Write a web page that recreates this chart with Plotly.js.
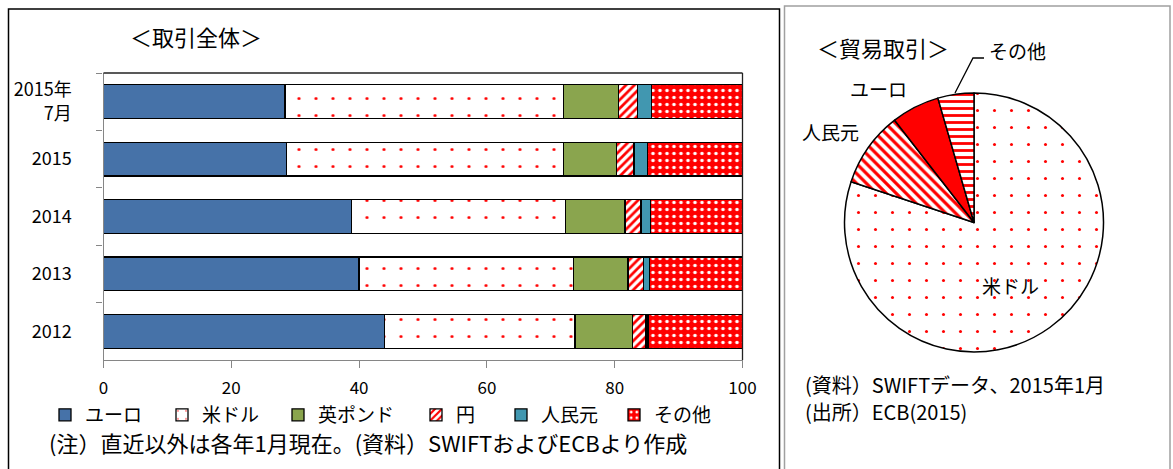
<!DOCTYPE html>
<html>
<head>
<meta charset="utf-8">
<script src="https://cdn.plot.ly/plotly-3.0.1.min.js"></script>
<style>
html,body{margin:0;padding:0;background:#fff;}
#chart{width:1173px;height:469px;}
</style>
</head>
<body>
<div id="chart"></div>
<script>
// ---- Data ----
const categories = ["2015年<br>7月", "2015", "2014", "2013", "2012"];
const seriesNames = ["ユーロ", "米ドル", "英ポンド", "円", "人民元", "その他"];
const euro  = [28.4, 28.6, 38.8, 40.0, 44.0];
const usd   = [43.6, 43.4, 33.5, 33.5, 29.8];
const gbp   = [8.6, 8.3, 9.3, 8.6, 9.0];
const jpy   = [3.0, 2.7, 2.5, 2.4, 2.1];
const cny   = [2.2, 2.1, 1.5, 0.9, 0.3];
const other = [14.2, 14.9, 14.4, 14.6, 14.8];
const xTicks = [0, 20, 40, 60, 80, 100];

const pieLabels = ["米ドル", "人民元", "ユーロ", "その他"];
const pieValues = [80.1, 9.4, 6.0, 4.5];

// ---- helpers: pixel -> paper ----
const W = 1173, H = 469;
const px = x => x / W;
const py = y => 1 - y / H;
const FONT = "'Noto Sans CJK JP', 'Noto Sans', sans-serif";
const RED = "#FF0000";

const seriesValues = [euro, usd, gbp, jpy, cny, other];
const styles = [
  {color: "#4672A8"},
  {color: "#FFFFFF", pattern: {shape: ".", fgcolor: RED, bgcolor: "#FFFFFF", size: 17, solidity: 0.025}},
  {color: "#8AA54E"},
  {color: "#FFFFFF", pattern: {shape: "/", fgcolor: RED, bgcolor: "#FFFFFF", size: 6, solidity: 0.45}},
  {color: "#4197B0"},
  {color: RED, pattern: {shape: ".", fgcolor: "#FFFFFF", bgcolor: RED, size: 7, solidity: 0.2}}
];
const legendIds = ["legend", "legend2", "legend3", "legend4", "legend5", "legend6"];
const legendTextX = [85, 202, 318, 456, 541, 654];

const traces = seriesNames.map((name, i) => ({
  type: "bar",
  orientation: "h",
  name: name,
  y: categories,
  x: seriesValues[i],
  xaxis: "x",
  yaxis: "y",
  legend: legendIds[i],
  marker: Object.assign({line: {color: "#000000", width: 1.3}}, styles[i]),
  hoverinfo: "x+name"
}));

traces.push({
  type: "pie",
  labels: pieLabels,
  values: pieValues,
  sort: false,
  direction: "clockwise",
  rotation: 0,
  textinfo: "none",
  showlegend: false,
  domain: {x: [px(844.5), px(1103.5)], y: [py(352), py(93)]},
  marker: {
    colors: ["#FFFFFF", "#FFFFFF", RED, "#FFFFFF"],
    line: {color: "#000000", width: 1.5},
    pattern: {
      shape: [".", "\\", "", "-"],
      fgcolor: [RED, RED, RED, RED],
      bgcolor: ["#FFFFFF", "#FFFFFF", RED, "#FFFFFF"],
      size: [17, 7, 8, 7],
      solidity: [0.025, 0.45, 0.3, 0.4]
    }
  }
});

const layout = {
  width: W, height: H, autosize: false,
  margin: {l: 0, r: 0, t: 0, b: 0},
  paper_bgcolor: "#FFFFFF",
  plot_bgcolor: "#FFFFFF",
  font: {family: FONT, color: "#000000", size: 18},
  barmode: "stack",
  bargap: 0.41,
  xaxis: {
    domain: [px(103.5), px(742.5)],
    range: [0, 100],
    tickvals: xTicks,
    showgrid: false, zeroline: false,
    showline: true, linecolor: "#868686", linewidth: 1.3,
    ticks: "outside", ticklen: 7, tickcolor: "#868686", tickwidth: 1.3,
    tickfont: {size: 17, family: FONT},
    ticklabelstandoff: 5,
    fixedrange: true
  },
  yaxis: {
    domain: [py(360), py(73)],
    type: "category",
    autorange: "reversed",
    showgrid: false, zeroline: false,
    showline: true, linecolor: "#868686", linewidth: 1.3,
    ticks: "outside", tickson: "boundaries", ticklen: 6, tickcolor: "#868686", tickwidth: 1.3,
    tickfont: {size: 18, family: FONT},
    ticklabelstandoff: 27,
    fixedrange: true
  },
  shapes: [
    // panel borders
    {type: "rect", xref: "paper", yref: "paper", x0: px(8.5), x1: px(779.5), y0: py(490), y1: py(9),
     line: {color: "#000000", width: 1.5}},
    {type: "rect", xref: "paper", yref: "paper", x0: px(784.5), x1: px(1170), y0: py(490), y1: py(6),
     line: {color: "#A0A0A0", width: 1.5}},
    // plot area top and right frame
    {type: "line", xref: "x domain", yref: "y domain", x0: 0, x1: 1, y0: 1, y1: 1,
     line: {color: "#222222", width: 1.3}},
    {type: "line", xref: "x domain", yref: "y domain", x0: 1, x1: 1, y0: 0, y1: 1,
     line: {color: "#222222", width: 1.3}},
    // leader line for その他
    {type: "path", xref: "paper", yref: "paper",
     path: "M " + px(955) + "," + py(93) + " L " + px(973) + "," + py(58) + " L " + px(984) + "," + py(58),
     line: {color: "#000000", width: 1.3}}
  ],
  annotations: [
    {text: "＜取引全体＞", xref: "paper", yref: "paper", x: px(196), y: py(36),
     xanchor: "center", yanchor: "middle", showarrow: false, font: {size: 22}},
    {text: "＜貿易取引＞", xref: "paper", yref: "paper", x: px(883), y: py(47),
     xanchor: "center", yanchor: "middle", showarrow: false, font: {size: 22}},
    {text: "その他", xref: "paper", yref: "paper", x: px(1017), y: py(50),
     xanchor: "center", yanchor: "middle", showarrow: false, font: {size: 19}},
    {text: "ユーロ", xref: "paper", yref: "paper", x: px(878), y: py(88),
     xanchor: "center", yanchor: "middle", showarrow: false, font: {size: 19}},
    {text: "人民元", xref: "paper", yref: "paper", x: px(830), y: py(131),
     xanchor: "center", yanchor: "middle", showarrow: false, font: {size: 19}},
    {text: "米ドル", xref: "paper", yref: "paper", x: px(1010), y: py(285),
     xanchor: "center", yanchor: "middle", showarrow: false, font: {size: 19}},
    {text: "(資料）SWIFTデータ、2015年1月", xref: "paper", yref: "paper", x: px(803), y: py(384),
     xanchor: "left", yanchor: "middle", showarrow: false, font: {size: 20}},
    {text: "(出所）ECB(2015)", xref: "paper", yref: "paper", x: px(803), y: py(411),
     xanchor: "left", yanchor: "middle", showarrow: false, font: {size: 20}},
    {text: "(注）直近以外は各年1月現在。(資料）SWIFTおよびECBより作成", xref: "paper", yref: "paper",
     x: px(47), y: py(442), xanchor: "left", yanchor: "middle", showarrow: false, font: {size: 22}}
  ],
  hovermode: "closest"
};

legendIds.forEach((id, i) => {
  layout[id] = {
    orientation: "h",
    x: px(legendTextX[i] - 40), xanchor: "left",
    y: py(415), yanchor: "middle",
    bgcolor: "rgba(0,0,0,0)",
    borderwidth: 0,
    itemwidth: 30,
    font: {size: 19, family: FONT},
    itemclick: false, itemdoubleclick: false
  };
});

Plotly.newPlot("chart", traces, layout, {displayModeBar: false, staticPlot: false});
</script>
</body>
</html>
